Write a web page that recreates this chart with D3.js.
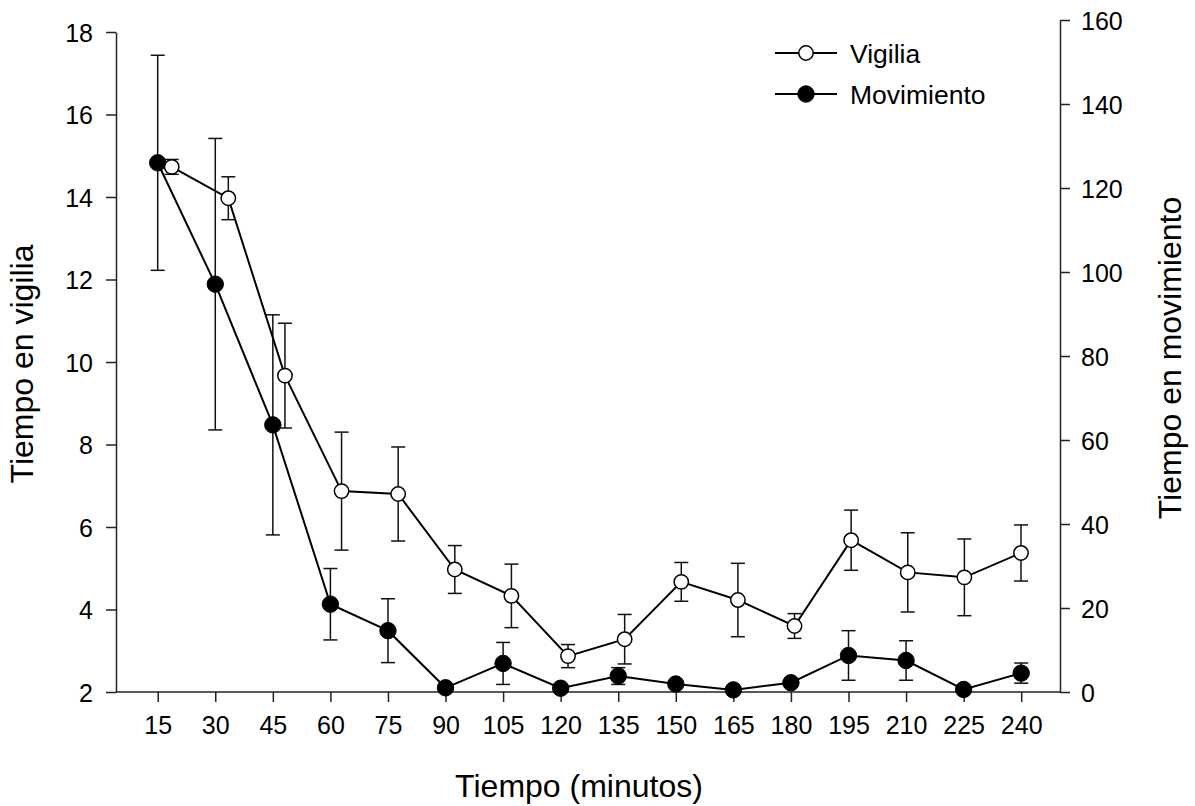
<!DOCTYPE html>
<html>
<head>
<meta charset="utf-8">
<script src="https://cdn.jsdelivr.net/npm/d3@7"></script>
<style>
  html, body { margin: 0; padding: 0; background: #fff; }
  svg { display: block; font-family: Arial, "Liberation Sans", Helvetica, sans-serif; }
</style>
</head>
<body>
<svg id="chart" width="1195" height="806"></svg>
<script>
// ---- Data ----
const times = [15, 30, 45, 60, 75, 90, 105, 120, 135, 150, 165, 180, 195, 210, 225, 240];
const vigilia = [14.73, 13.97, 9.67, 6.87, 6.80, 4.97, 4.33, 2.87, 3.28, 4.67, 4.23, 3.60, 5.68, 4.90, 4.78, 5.37];
const vigiliaErr = [0.18, 0.52, 1.27, 1.43, 1.14, 0.58, 0.77, 0.28, 0.60, 0.47, 0.89, 0.30, 0.73, 0.96, 0.93, 0.68];
const movimiento = [126.0, 97.1, 63.6, 20.9, 14.6, 1.0, 6.8, 0.9, 3.8, 1.9, 0.5, 2.2, 8.7, 7.5, 0.6, 4.5];
const movimientoErr = [25.6, 34.7, 26.2, 8.5, 7.6, 0.4, 5.0, 0.3, 2.0, 0.4, 0.3, 0.4, 5.9, 4.7, 0.3, 2.4];
const leftTicks = [2, 4, 6, 8, 10, 12, 14, 16, 18];
const rightTicks = [0, 20, 40, 60, 80, 100, 120, 140, 160];
const seriesNames = ["Vigilia", "Movimiento"];

// ---- Layout ----
const svg = d3.select("#chart");
const plotLeft = 116, plotRight = 1060, plotBottom = 692;

const x = d3.scaleLinear().domain([15, 240]).range([157.7, 1021.2]);
// Vigilia series is drawn with a slightly shifted x placement (as in the original)
const xV = d3.scaleLinear().domain([15, 240]).range([171.7, 1021]);
const yL = d3.scaleLinear().domain([2, 18]).range([plotBottom, 32]);
const yR = d3.scaleLinear().domain([0, 160]).range([plotBottom, 20]);

const axisColor = "#222";
const tickFont = 25;

// Left axis
const gL = svg.append("g").attr("transform", `translate(${plotLeft},0)`)
  .call(d3.axisLeft(yL).tickValues(leftTicks).tickSize(10).tickSizeOuter(0).tickPadding(13));
// Right axis
const gR = svg.append("g").attr("transform", `translate(${plotRight},0)`)
  .call(d3.axisRight(yR).tickValues(rightTicks).tickSize(10).tickSizeOuter(0).tickPadding(11));
// Bottom axis
const gB = svg.append("g").attr("transform", `translate(0,${plotBottom})`)
  .call(d3.axisBottom(x).tickValues(times).tickSize(10).tickSizeOuter(0).tickPadding(14));
gB.select(".domain").remove();
gB.append("line").attr("x1", plotLeft).attr("x2", plotRight).attr("y1", 0).attr("y2", 0)
  .attr("stroke", axisColor).attr("stroke-width", 1.5);

[gL, gR, gB].forEach(g => {
  g.selectAll("path.domain").attr("stroke", axisColor).attr("stroke-width", 1.5);
  g.selectAll(".tick line").attr("stroke", axisColor).attr("stroke-width", 1.5);
  g.selectAll(".tick text").attr("fill", "#000").attr("font-size", tickFont)
    .attr("font-family", "Arial, 'Liberation Sans', sans-serif");
});
gL.selectAll(".tick text").attr("dy", "0.36em");
gR.selectAll(".tick text").attr("dy", "0.36em");
gB.selectAll(".tick text").attr("dy", "0.72em");

// Axis titles
svg.append("text").attr("x", 579).attr("y", 797).attr("text-anchor", "middle")
  .attr("font-size", 32).text("Tiempo (minutos)");
svg.append("text").attr("transform", "translate(33,364) rotate(-90)").attr("text-anchor", "middle")
  .attr("font-size", 32).text("Tiempo en vigilia");
svg.append("text").attr("transform", "translate(1181,358) rotate(-90)").attr("text-anchor", "middle")
  .attr("font-size", 32).text("Tiempo en movimiento");

// ---- Series ----
const capW = 7;
function drawSeries(xs, ys, vals, errs, fill, r, sw) {
  const g = svg.append("g");
  const data = times.map((t, i) => ({ t, v: vals[i], e: errs[i] }));
  // error bars
  const eb = g.selectAll("g.eb").data(data).enter().append("g")
    .attr("stroke", "#111").attr("stroke-width", 1.5);
  eb.append("line").attr("x1", d => xs(d.t)).attr("x2", d => xs(d.t))
    .attr("y1", d => ys(d.v + d.e)).attr("y2", d => ys(d.v - d.e));
  eb.append("line").attr("x1", d => xs(d.t) - capW).attr("x2", d => xs(d.t) + capW)
    .attr("y1", d => ys(d.v + d.e)).attr("y2", d => ys(d.v + d.e));
  eb.append("line").attr("x1", d => xs(d.t) - capW).attr("x2", d => xs(d.t) + capW)
    .attr("y1", d => ys(d.v - d.e)).attr("y2", d => ys(d.v - d.e));
  // line
  g.append("path").datum(data)
    .attr("d", d3.line().x(d => xs(d.t)).y(d => ys(d.v)))
    .attr("fill", "none").attr("stroke", "#000").attr("stroke-width", 2);
  // markers
  g.selectAll("circle").data(data).enter().append("circle")
    .attr("cx", d => xs(d.t)).attr("cy", d => ys(d.v)).attr("r", r)
    .attr("fill", fill).attr("stroke", "#000").attr("stroke-width", sw);
}
drawSeries(x, yR, movimiento, movimientoErr, "#000", 8.2, 1);
drawSeries(xV, yL, vigilia, vigiliaErr, "#fff", 7.2, 1.5);

// ---- Legend ----
const legend = svg.append("g");
const legendItems = [
  { name: seriesNames[0], fill: "#fff", y: 53, r: 7.2, sw: 1.5 },
  { name: seriesNames[1], fill: "#000", y: 94, r: 8.2, sw: 1 }
];
legendItems.forEach(it => {
  legend.append("line").attr("x1", 775).attr("x2", 837).attr("y1", it.y).attr("y2", it.y)
    .attr("stroke", "#000").attr("stroke-width", 2);
  legend.append("circle").attr("cx", 806).attr("cy", it.y).attr("r", it.r)
    .attr("fill", it.fill).attr("stroke", "#000").attr("stroke-width", it.sw);
  legend.append("text").attr("x", 850).attr("y", it.y).attr("dy", "0.36em")
    .attr("font-size", 26.5).text(it.name);
});
</script>
</body>
</html>
